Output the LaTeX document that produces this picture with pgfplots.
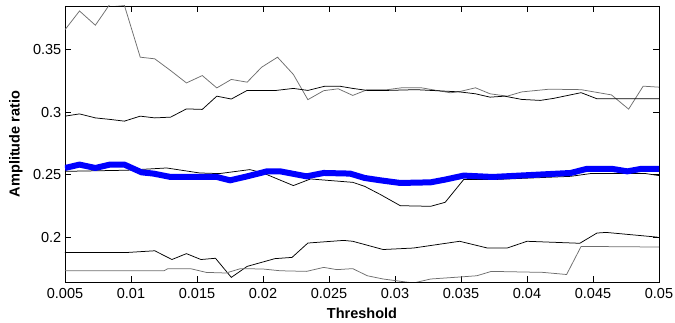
\documentclass[border=0pt]{standalone}
\usepackage{fontspec}
\setmainfont{Liberation Sans}
\usepackage{pgfplots}
\pgfplotsset{compat=1.18}
\definecolor{lgray}{RGB}{110,110,110}
\begin{document}
\begin{tikzpicture}
\path[use as bounding box] (-65pt,-41pt) rectangle (610pt,282pt);
\begin{axis}[
  at={(0,0)}, anchor=south west,
  scale only axis, width=594pt, height=276pt,
  xmin=0.005, xmax=0.05, ymin=0.164, ymax=0.385,
  xtick={0.005,0.01,0.015,0.02,0.025,0.03,0.035,0.04,0.045,0.05},
  xticklabels={0.005,0.01,0.015,0.02,0.025,0.03,0.035,0.04,0.045,0.05},
  scaled x ticks=false, scaled y ticks=false,
  ytick={0.2,0.25,0.3,0.35},
  yticklabels={0.2,0.25,0.3,0.35},
  tick align=inside, major tick length=6pt,
  axis line style={line width=0.8pt},
  every tick/.style={black, line width=0.8pt},
  ticklabel style={font=\fontsize{14.5}{17}\selectfont},
  xticklabel style={yshift=-3pt},
  yticklabel style={inner sep=0pt, xshift=-3.5pt},
  xlabel={\bfseries Threshold},
  ylabel={\bfseries Amplitude ratio},
  label style={font=\fontsize{14.5}{17}\selectfont},
  xlabel style={at={([yshift=-31pt]axis description cs:0.5,0)}, anchor=center},
  ylabel style={at={([xshift=-49pt]axis description cs:0,0.5)}, anchor=center},
  clip=true,
]
% A: top gray line
\addplot[lgray, line width=0.75pt] coordinates {
(0.005,0.366) (0.0061,0.381) (0.0073,0.3696) (0.0084,0.3865) (0.0095,0.3855) (0.0107,0.344) (0.0118,0.3427) (0.013,0.3333) (0.0142,0.3234) (0.0154,0.3293) (0.0165,0.3194) (0.0176,0.3262) (0.0188,0.324) (0.0199,0.336) (0.0211,0.344) (0.0223,0.3302) (0.0234,0.310) (0.0246,0.3172) (0.0257,0.3187) (0.0268,0.3134) (0.0279,0.318) (0.0294,0.318) (0.0305,0.3195) (0.0320,0.3195) (0.0342,0.3155) (0.0349,0.3165) (0.0361,0.3195) (0.0372,0.3147) (0.0385,0.3128) (0.0396,0.3162) (0.0417,0.3184) (0.0441,0.318) (0.0464,0.3138) (0.0477,0.3024) (0.0488,0.3208) (0.050,0.320)
};
% B: black line near 0.3-0.32
\addplot[black, line width=0.75pt] coordinates {
(0.005,0.2968) (0.0061,0.2986) (0.0073,0.2954) (0.0084,0.2942) (0.0095,0.2928) (0.0107,0.2968) (0.0118,0.2954) (0.013,0.296) (0.0142,0.3026) (0.0154,0.3022) (0.0165,0.3128) (0.0176,0.3105) (0.0188,0.3174) (0.021,0.3174) (0.0223,0.319) (0.0234,0.3174) (0.0247,0.3208) (0.0258,0.3208) (0.0268,0.319) (0.0279,0.3174) (0.0294,0.3174) (0.0316,0.318) (0.0342,0.3166) (0.0349,0.3162) (0.0361,0.3147) (0.0372,0.312) (0.0383,0.3128) (0.0396,0.3102) (0.041,0.3094) (0.042,0.311) (0.0441,0.3156) (0.0453,0.3107) (0.050,0.3107)
};
% D: thin black near 0.25
\addplot[black, line width=0.75pt] coordinates {
(0.005,0.2526) (0.0097,0.2535) (0.0127,0.2553) (0.0152,0.2513) (0.0167,0.2508) (0.019,0.254) (0.020,0.2513) (0.0223,0.2412) (0.0236,0.2465) (0.0268,0.2438) (0.0277,0.2406) (0.0289,0.234) (0.0304,0.2251) (0.0327,0.2246) (0.0338,0.2278) (0.0352,0.246) (0.0374,0.246) (0.0433,0.2486) (0.0448,0.2508) (0.0490,0.2508) (0.050,0.2492)
};
% F: black lower line
\addplot[black, line width=0.75pt] coordinates {
(0.005,0.1877) (0.0098,0.1877) (0.0118,0.189) (0.0131,0.182) (0.0142,0.1867) (0.0153,0.182) (0.0164,0.183) (0.0176,0.1677) (0.0188,0.1765) (0.0209,0.1827) (0.0222,0.1837) (0.0234,0.1952) (0.0261,0.1973) (0.0268,0.1966) (0.0291,0.190) (0.0314,0.1912) (0.0349,0.1966) (0.037,0.1912) (0.0385,0.1912) (0.040,0.1966) (0.044,0.195) (0.0453,0.2032) (0.046,0.2037) (0.0498,0.2) (0.050,0.1995)
};
% G: gray bottom line
\addplot[lgray, line width=0.75pt] coordinates {
(0.005,0.173) (0.0125,0.173) (0.0128,0.1747) (0.0145,0.1747) (0.0157,0.1717) (0.0172,0.1712) (0.0183,0.1747) (0.020,0.1744) (0.0213,0.173) (0.0233,0.1725) (0.0246,0.1757) (0.0256,0.1739) (0.0268,0.1747) (0.0279,0.169) (0.0291,0.1664) (0.0314,0.1632) (0.0327,0.1664) (0.0349,0.168) (0.0362,0.169) (0.0373,0.1725) (0.0412,0.1717) (0.043,0.170) (0.0441,0.1925) (0.050,0.192)
};
% C: thick blue line
\addplot[blue, line width=6pt, line join=round] coordinates {
(0.005,0.2553) (0.0061,0.258) (0.0073,0.2553) (0.0084,0.258) (0.0095,0.258) (0.0108,0.2518) (0.0117,0.2508) (0.013,0.2481) (0.0165,0.2481) (0.0175,0.2454) (0.0188,0.2486) (0.0203,0.2526) (0.0213,0.2526) (0.0233,0.2486) (0.0246,0.2513) (0.0266,0.2508) (0.0277,0.2473) (0.0289,0.2454) (0.0304,0.2433) (0.0327,0.2438) (0.0338,0.246) (0.0352,0.2492) (0.0374,0.2481) (0.0433,0.2513) (0.0445,0.2545) (0.0465,0.2545) (0.0476,0.2526) (0.0486,0.2545) (0.050,0.2545)
};
\end{axis}
\end{tikzpicture}
\end{document}
